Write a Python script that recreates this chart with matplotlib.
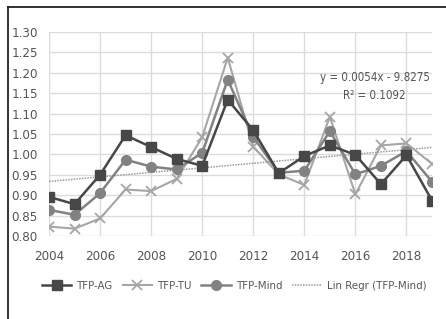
import numpy as np
import matplotlib
matplotlib.use("Agg")
import matplotlib.pyplot as plt
from matplotlib.lines import Line2D

years = list(range(2004, 2020))
tfp_ag = [0.896, 0.878, 0.950, 1.047, 1.018, 0.989, 0.972, 1.134, 1.059, 0.954,
          0.996, 1.022, 0.999, 0.927, 0.998, 0.887]
tfp_tu = [0.823, 0.818, 0.843, 0.914, 0.910, 0.940, 1.042, 1.237, 1.019, 0.951,
          0.925, 1.092, 0.902, 1.022, 1.027, 0.977]
tfp_mind = [0.864, 0.852, 0.905, 0.987, 0.970, 0.963, 1.004, 1.183, 1.043, 0.955,
            0.960, 1.057, 0.951, 0.972, 1.008, 0.933]
eq_text = "y = 0.0054x - 9.8275\nR\u00b2 = 0.1092"
labels = ["TFP-AG", "TFP-TU", "TFP-Mind", "Lin Regr (TFP-Mind)"]

plt.rcParams['font.family'] = ['DejaVu Sans']
plt.rcParams['font.stretch'] = 'condensed'

W, H = 446, 319
fig = plt.figure(figsize=(W / 100, H / 100), dpi=100)
fig.patch.set_facecolor('white')

# frame lines (left and top)
fig.add_artist(Line2D([8 / W, 8 / W], [0, 1 - 7 / H], transform=fig.transFigure,
                      color='#222222', lw=1.3))
fig.add_artist(Line2D([8 / W, 1], [1 - 7 / H, 1 - 7 / H], transform=fig.transFigure,
                      color='#222222', lw=1.3))

ax = fig.add_axes([49 / W, 1 - 236 / H, (432 - 49) / W, (236 - 32) / H])
ax.set_facecolor('none')

x = np.array(years)
c_ag, c_tu, c_mind, c_tr = '#474747', '#a6a6a6', '#828282', '#9a9a9a'
ax.plot(x, tfp_ag, color=c_ag, lw=1.8, marker='s', ms=7, zorder=4)
ax.plot(x, tfp_tu, color=c_tu, lw=1.5, marker='x', ms=7, mew=1.3, zorder=3)
ax.plot(x, tfp_mind, color=c_mind, lw=1.8, marker='o', ms=7, zorder=3.5)
coef = np.polyfit(x, tfp_mind, 1)
ax.plot(x, np.polyval(coef, x), color=c_tr, lw=1.1, ls=(0, (1, 0.8)), zorder=2)

ax.set_xlim(2004, 2019)
ax.set_ylim(0.80, 1.30)
ax.set_xticks(range(2004, 2019, 2))
ax.set_yticks(np.arange(0.80, 1.301, 0.05))
ax.set_yticklabels([f"{v:.2f}" for v in np.arange(0.80, 1.301, 0.05)])
ax.grid(True, color='#dcdcdc', lw=1.0)
ax.set_axisbelow(True)
for s in ax.spines.values():
    s.set_visible(False)
ax.tick_params(length=0, labelsize=9.5, colors='#555555')
ax.tick_params(axis='x', pad=10)
ax.tick_params(axis='y', pad=8)

ax.text(2016.75, 1.167, eq_text, ha='center', va='center', fontsize=8.3,
        color='#555555', linespacing=1.45)

handles = [
    Line2D([], [], color=c_ag, lw=1.8, marker='s', ms=7),
    Line2D([], [], color=c_tu, lw=1.5, marker='x', ms=7, mew=1.3),
    Line2D([], [], color=c_mind, lw=1.8, marker='o', ms=7),
    Line2D([], [], color=c_tr, lw=1.1, ls=(0, (1, 0.8))),
]
fig.legend(handles, labels, loc='center', bbox_to_anchor=(234 / W, 1 - 286 / H),
           ncol=4, frameon=False, fontsize=8.2, labelcolor='#555555',
           handlelength=2.6, handletextpad=0.4, columnspacing=0.9)

fig.savefig('out.png', dpi=100)
